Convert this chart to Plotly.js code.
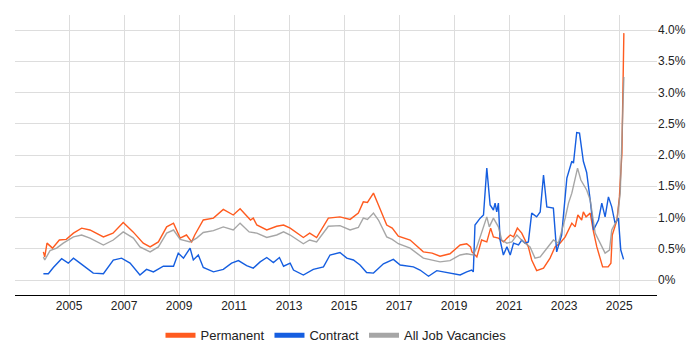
<!DOCTYPE html>
<html>
<head>
<meta charset="utf-8">
<script src="https://cdn.plot.ly/plotly-3.0.1.min.js"></script>
<style>html,body{margin:0;padding:0;background:#fff}#chart{width:700px;height:350px}</style>
</head>
<body>
<div id="chart"></div>
<script>
// Decimal-year positions and percentage values
const permYears = [2004.07,2004.12,2004.2,2004.4,2004.65,2004.9,2005.16,2005.46,2005.76,2006.25,2006.6,2006.97,2007.33,2007.7,2007.95,2008.25,2008.55,2008.8,2009.04,2009.27,2009.46,2009.57,2009.88,2010.25,2010.61,2010.97,2011.22,2011.6,2011.7,2011.83,2012.19,2012.55,2012.8,2013.04,2013.52,2013.75,2014.0,2014.43,2014.85,2015.22,2015.52,2015.7,2015.85,2016.07,2016.25,2016.55,2016.75,2016.97,2017.4,2017.88,2018.2,2018.49,2018.85,2019.22,2019.46,2019.6,2019.65,2019.83,2020.0,2020.19,2020.33,2020.43,2020.61,2020.8,2020.92,2021.04,2021.16,2021.3,2021.46,2021.7,2021.82,2022.0,2022.25,2022.49,2022.67,2022.85,2023.04,2023.28,2023.4,2023.5,2023.64,2023.7,2023.8,2023.95,2024.07,2024.19,2024.4,2024.6,2024.7,2024.75,2024.92,2025.01,2025.1,2025.17];
const permValues = [0.45,0.37,0.59,0.51,0.64,0.65,0.75,0.83,0.80,0.69,0.75,0.92,0.77,0.59,0.53,0.61,0.85,0.91,0.67,0.72,0.61,0.72,0.96,0.99,1.13,1.04,1.14,0.96,0.99,0.88,0.80,0.86,0.88,0.83,0.68,0.75,0.68,0.99,1.01,0.97,1.07,1.25,1.24,1.39,1.20,0.88,0.83,0.70,0.64,0.45,0.43,0.38,0.42,0.56,0.58,0.53,0.45,0.37,0.64,0.61,0.83,0.69,0.67,0.61,0.67,0.72,0.69,0.83,0.75,0.53,0.32,0.15,0.19,0.35,0.53,0.59,0.69,0.91,0.85,1.04,0.96,1.09,1.01,1.07,0.77,0.53,0.21,0.21,0.27,0.72,0.96,1.33,2.03,3.95];

const contYears = [2004.07,2004.25,2004.43,2004.73,2004.97,2005.16,2005.4,2005.88,2006.25,2006.61,2006.91,2007.22,2007.58,2007.82,2008.07,2008.43,2008.8,2008.97,2009.16,2009.4,2009.52,2009.7,2009.88,2010.25,2010.61,2010.91,2011.16,2011.46,2011.7,2011.95,2012.19,2012.43,2012.65,2012.8,2013.04,2013.16,2013.52,2013.88,2014.25,2014.49,2014.85,2015.1,2015.34,2015.58,2015.82,2016.07,2016.43,2016.79,2017.04,2017.28,2017.52,2017.76,2018.07,2018.37,2018.61,2018.85,2019.22,2019.46,2019.64,2019.7,2019.76,2019.95,2020.07,2020.19,2020.31,2020.43,2020.49,2020.55,2020.61,2020.67,2020.79,2020.92,2021.04,2021.16,2021.34,2021.46,2021.58,2021.7,2021.82,2022.0,2022.13,2022.25,2022.37,2022.61,2022.73,2022.91,2023.1,2023.28,2023.34,2023.46,2023.56,2023.7,2023.82,2023.95,2024.07,2024.25,2024.37,2024.49,2024.61,2024.73,2024.85,2024.97,2025.06,2025.16];
const contValues = [0.10,0.10,0.20,0.34,0.27,0.35,0.27,0.11,0.10,0.32,0.35,0.27,0.08,0.17,0.13,0.22,0.22,0.43,0.35,0.51,0.32,0.40,0.20,0.13,0.17,0.27,0.31,0.23,0.19,0.29,0.36,0.28,0.36,0.22,0.27,0.16,0.08,0.17,0.21,0.40,0.44,0.35,0.32,0.24,0.12,0.11,0.26,0.33,0.24,0.22,0.21,0.16,0.06,0.15,0.13,0.11,0.08,0.13,0.16,0.13,0.88,0.99,1.04,1.79,1.20,1.12,1.23,1.09,1.23,0.64,0.40,0.53,0.40,0.59,0.56,0.64,0.59,0.61,1.07,1.01,1.09,1.68,1.17,1.15,0.45,0.72,1.63,1.90,1.87,2.36,2.35,1.90,1.72,1.28,0.80,0.96,1.23,1.01,1.33,1.17,0.91,0.99,0.48,0.33];

const allYears = [2004.07,2004.12,2004.31,2004.55,2004.79,2005.16,2005.46,2005.76,2006.25,2006.61,2006.97,2007.34,2007.58,2007.95,2008.25,2008.55,2008.8,2009.04,2009.4,2009.64,2009.88,2010.25,2010.61,2010.97,2011.22,2011.55,2011.83,2012.19,2012.55,2012.8,2013.04,2013.52,2013.75,2014.0,2014.43,2014.85,2015.22,2015.52,2015.7,2015.85,2016.07,2016.25,2016.55,2016.75,2016.97,2017.4,2017.88,2018.49,2018.85,2019.22,2019.46,2019.7,2019.83,2020.0,2020.19,2020.28,2020.43,2020.61,2020.73,2020.92,2021.1,2021.28,2021.52,2021.76,2021.94,2022.13,2022.37,2022.61,2022.79,2023.04,2023.16,2023.28,2023.49,2023.61,2023.82,2023.95,2024.13,2024.31,2024.49,2024.65,2024.73,2024.92,2025.04,2025.17];
const allValues = [0.37,0.32,0.47,0.51,0.59,0.69,0.72,0.67,0.56,0.64,0.77,0.67,0.53,0.45,0.53,0.75,0.80,0.65,0.61,0.67,0.76,0.79,0.85,0.80,0.91,0.77,0.75,0.68,0.72,0.77,0.72,0.58,0.64,0.61,0.86,0.87,0.80,0.84,0.99,0.97,1.07,0.96,0.69,0.65,0.58,0.51,0.35,0.29,0.31,0.40,0.42,0.40,0.53,0.77,1.01,0.85,0.99,0.85,0.64,0.59,0.61,0.72,0.61,0.53,0.35,0.37,0.51,0.64,0.59,0.99,1.23,1.39,1.79,1.60,1.44,1.28,0.75,0.59,0.43,0.48,0.80,0.96,1.39,3.25];

const seriesNames = ["Permanent","Contract","All Job Vacancies"];
const seriesColors = ["#ff5b1f","#155ee0","rgba(150,150,150,0.85)"];
const yTickVals = [0,0.5,1,1.5,2,2.5,3,3.5,4];
const yTickText = ["0%","0.5%","1.0%","1.5%","2.0%","2.5%","3.0%","3.5%","4.0%"];

function toDate(y){
  const yr = Math.floor(y);
  const start = Date.UTC(yr,0,1), end = Date.UTC(yr+1,0,1);
  return new Date(start + (y-yr)*(end-start)).toISOString().slice(0,10);
}

const xs = [permYears, contYears, allYears];
const ys = [permValues, contValues, allValues];
const traces = [];
for (let i=0;i<3;i++){
  traces.push({name:seriesNames[i], x:xs[i].map(toDate), y:ys[i], type:"scatter", mode:"lines",
    line:{color:seriesColors[i], width:1.4}, showlegend:false});
}
// legend-only entries with thick swatches
for (let i=0;i<3;i++){
  traces.push({name:seriesNames[i], x:[null], y:[null], type:"scatter", mode:"lines",
    line:{color:seriesColors[i], width:5}, showlegend:true});
}

const layout = {
  width:700, height:350,
  margin:{l:15, r:43, t:15, b:55, autoexpand:false},
  paper_bgcolor:"#fff", plot_bgcolor:"#fff",
  font:{family:"Liberation Sans, Arial, sans-serif", size:12, color:"#222"},
  showlegend:true,
  legend:{orientation:"h", xref:"container", yref:"container", x:0.48, xanchor:"center", y:0.042, yanchor:"middle",
    font:{size:13, color:"#222"}, itemwidth:30, tracegroupgap:0},
  xaxis:{type:"date", range:["2003-01-14","2026-05-18"], tick0:"2005-01-01", dtick:"M24",
    tickformat:"%Y", showgrid:true, gridcolor:"#dddddd", gridwidth:1,
    showline:true, linecolor:"#000", linewidth:1, ticks:"", zeroline:false,
    tickfont:{size:12, color:"#222"}},
  yaxis:{side:"right", range:[-0.24,4.24], tickvals:yTickVals, ticktext:yTickText,
    showgrid:true, gridcolor:"#dddddd", gridwidth:1, zeroline:false, showline:false,
    ticks:"", tickfont:{size:12, color:"#222"}}
};

Plotly.newPlot("chart", traces, layout, {displayModeBar:false, staticPlot:true});
</script>
</body>
</html>
